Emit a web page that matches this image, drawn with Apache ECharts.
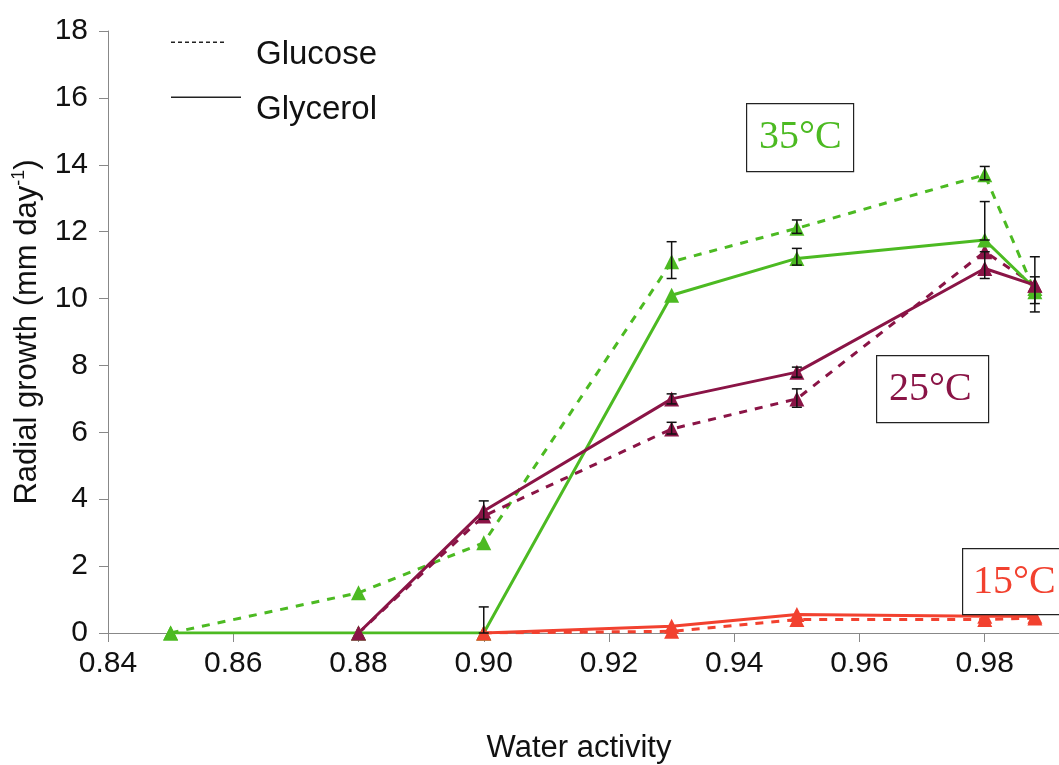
<!DOCTYPE html>
<html>
<head>
<meta charset="utf-8">
<script src="https://cdn.jsdelivr.net/npm/echarts@6/dist/echarts.min.js"></script>
<style>
html,body{margin:0;padding:0;background:#fff;}
#chart{width:1059px;height:765px;}
</style>
</head>
<body>
<div id="chart"></div>
<script>
// Water activity values
const aw = [0.85, 0.88, 0.90, 0.93, 0.95, 0.98, 0.988];
const aw25 = [0.88, 0.90, 0.93, 0.95, 0.98, 0.988];
const aw15 = [0.90, 0.93, 0.95, 0.98, 0.988];

// 35°C
const glucose35 = [0, 1.2, 2.7, 11.1, 12.1, 13.7, 10.2];
const glycerol35 = [0, 0, 0, 10.1, 11.2, 11.75, 10.3];
// 25°C
const glucose25 = [0, 3.5, 6.1, 7.0, 11.4, 10.4];
const glycerol25 = [0, 3.65, 7.0, 7.8, 10.9, 10.4];
// 15°C
const glucose15 = [0, 0.05, 0.4, 0.4, 0.45];
const glycerol15 = [0, 0.2, 0.55, 0.5, 0.5];

// Error bars: [aw, low, high]
const errorBars = [
  [0.90, 0, 0.78],
  [0.90, 3.4, 3.95],
  [0.93, 10.6, 11.7],
  [0.93, 6.85, 7.15],
  [0.93, 5.95, 6.3],
  [0.95, 11.95, 12.35],
  [0.95, 11.0, 11.5],
  [0.95, 7.65, 7.95],
  [0.95, 6.75, 7.3],
  [0.98, 13.55, 13.95],
  [0.98, 11.75, 12.9],
  [0.98, 10.6, 11.4],
  [0.988, 9.6, 11.25],
  [0.988, 9.85, 10.65]
];

const GREEN = '#4cba22';
const MAROON = '#8a1446';
const RED = '#f2412f';

function pair(xs, ys) { return xs.map((x, i) => [x, ys[i]]); }

function lineSeries(name, xs, ys, color, dashed) {
  return {
    name: name,
    type: 'line',
    data: pair(xs, ys),
    symbol: 'triangle',
    symbolSize: 15,
    itemStyle: { color: color },
    lineStyle: { color: color, width: 3, type: dashed ? [8, 8] : 'solid' },
    z: dashed ? 3 : 4,
    silent: true,
    animation: false
  };
}

// legend key icons: a thin line at the top of a 70x26 box
let dashPath = 'path://';
for (let x = 0; x < 56; x += 7) dashPath += 'M' + x + ',0h4v1.5h-4z';
dashPath += 'M69.9,25.9h0.1v0.1h-0.1z';
const solidPath = 'path://M0,0h70v1.5h-70zM69.9,25.9h0.1v0.1h-0.1z';

const chart = echarts.init(document.getElementById('chart'));
const font = '"Liberation Sans", Arial, sans-serif';

function legendBox(name, top, icon) {
  return {
    left: 166, top: top, orient: 'vertical',
    itemWidth: 70, itemHeight: 26,
    icon: icon,
    itemStyle: { color: '#222', borderWidth: 0 },
    textStyle: { fontFamily: font, fontSize: 33, color: '#111', padding: [0, 0, 0, 10] },
    data: [name]
  };
}

chart.setOption({
  backgroundColor: '#ffffff',
  animation: false,
  grid: { left: 108, width: 1002, top: 31, height: 602, outerBoundsMode: 'none', containLabel: false },
  legend: [legendBox('Glucose', 33, dashPath), legendBox('Glycerol', 88, solidPath)],
  xAxis: {
    type: 'value', min: 0.84, max: 1.00, interval: 0.02,
    axisLine: { lineStyle: { color: '#888', width: 1 } },
    axisTick: { show: true, length: 9, lineStyle: { color: '#888' } },
    splitLine: { show: false },
    axisLabel: {
      fontFamily: font, fontSize: 30, color: '#111', margin: 16,
      formatter: v => v.toFixed(2), showMaxLabel: false
    },
    name: 'Water activity', nameLocation: 'middle', nameGap: 100,
    nameTextStyle: { fontFamily: font, fontSize: 31, color: '#111', padding: [0, 60, 0, 0] }
  },
  yAxis: {
    type: 'value', min: 0, max: 18, interval: 2,
    axisLine: { show: true, lineStyle: { color: '#888', width: 1 } },
    axisTick: { show: true, length: 9, lineStyle: { color: '#888' } },
    splitLine: { show: false },
    axisLabel: { fontFamily: font, fontSize: 30, color: '#111', margin: 20 },
    name: 'Radial growth (mm day{sup|-1})', nameLocation: 'middle', nameGap: 64, nameRotate: 90,
    nameTextStyle: {
      fontFamily: font, fontSize: 31, color: '#111',
      rich: { sup: { fontFamily: font, fontSize: 18, color: '#111', verticalAlign: 'top', padding: [0, 0, 16, 0] } }
    }
  },
  series: [
    { name: 'Glucose', type: 'line', data: [], symbol: 'none', lineStyle: { color: '#222', width: 1.5, type: [4, 3] }, itemStyle: { color: '#222' } },
    { name: 'Glycerol', type: 'line', data: [], symbol: 'none', lineStyle: { color: '#222', width: 1.5 }, itemStyle: { color: '#222' } },
    lineSeries('g35', aw, glucose35, GREEN, true),
    lineSeries('c35', aw, glycerol35, GREEN, false),
    lineSeries('g25', aw25, glucose25, MAROON, true),
    lineSeries('c25', aw25, glycerol25, MAROON, false),
    lineSeries('g15', aw15, glucose15, RED, true),
    lineSeries('c15', aw15, glycerol15, RED, false),
    {
      type: 'custom', silent: true, z: 5,
      data: errorBars,
      renderItem: function (params, api) {
        const x = api.value(0);
        const lo = api.coord([x, api.value(1)]);
        const hi = api.coord([x, api.value(2)]);
        const w = 5;
        const st = { stroke: '#111', lineWidth: 1.5 };
        return {
          type: 'group',
          children: [
            { type: 'line', shape: { x1: lo[0], y1: lo[1], x2: hi[0], y2: hi[1] }, style: st },
            { type: 'line', shape: { x1: hi[0] - w, y1: hi[1], x2: hi[0] + w, y2: hi[1] }, style: st },
            { type: 'line', shape: { x1: lo[0] - w, y1: lo[1], x2: lo[0] + w, y2: lo[1] }, style: st }
          ]
        };
      }
    }
  ],
  graphic: [
    { type: 'rect', left: 746, top: 103, shape: { width: 107, height: 68 }, style: { fill: '#fff', stroke: '#222', lineWidth: 1.2 }, z: 10 },
    { type: 'text', left: 759, top: 117, style: { text: '35°C', fill: GREEN, font: '40px "Liberation Serif", "Times New Roman", serif' }, z: 11 },
    { type: 'rect', left: 876, top: 355, shape: { width: 112, height: 67 }, style: { fill: '#fff', stroke: '#222', lineWidth: 1.2 }, z: 10 },
    { type: 'text', left: 889, top: 369, style: { text: '25°C', fill: MAROON, font: '40px "Liberation Serif", "Times New Roman", serif' }, z: 11 },
    { type: 'rect', left: 962, top: 548, shape: { width: 110, height: 66 }, style: { fill: '#fff', stroke: '#222', lineWidth: 1.2 }, z: 10 },
    { type: 'text', left: 973, top: 562, style: { text: '15°C', fill: RED, font: '40px "Liberation Serif", "Times New Roman", serif' }, z: 11 }
  ]
});
</script>
</body>
</html>
